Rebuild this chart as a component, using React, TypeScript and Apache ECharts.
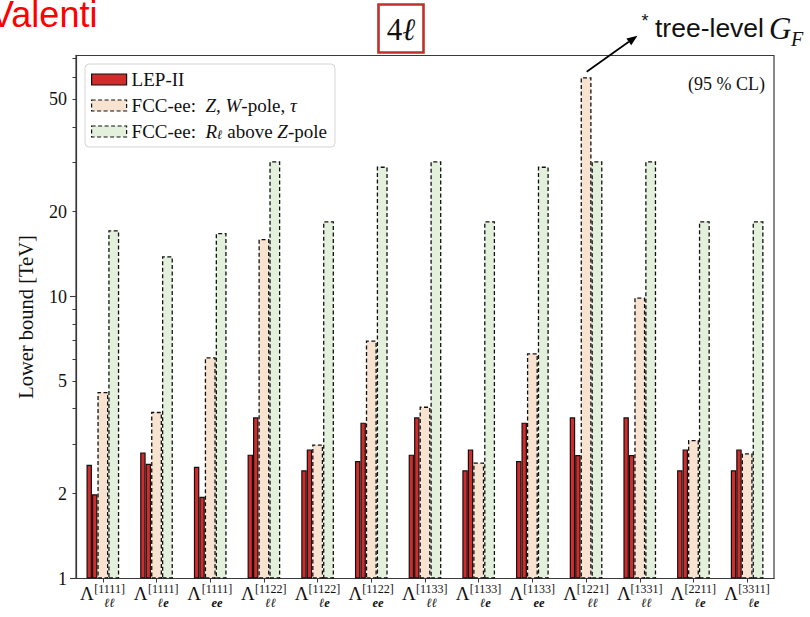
import React, { useEffect, useRef } from "react";
import * as echarts from "echarts";

// ---- data ----
const subLabels = ["ℓℓ", "ℓe", "ee", "ℓℓ", "ℓe", "ee", "ℓℓ", "ℓe", "ee", "ℓℓ", "ℓℓ", "ℓe", "ℓe"];
const supLabels = ["[1111]", "[1111]", "[1111]", "[1122]", "[1122]", "[1122]", "[1133]", "[1133]", "[1133]", "[1221]", "[1331]", "[2211]", "[3311]"];
const categories = subLabels.map((s, i) => s + " " + supLabels[i]);

const lepFirst = [2.53, 2.8, 2.49, 2.75, 2.42, 2.61, 2.75, 2.42, 2.61, 3.73, 3.73, 2.42, 2.42];
const lepSecond = [1.99, 2.55, 1.95, 3.73, 2.87, 3.57, 3.73, 2.87, 3.57, 2.74, 2.74, 2.87, 2.87];
const fccPole = [4.59, 3.9, 6.09, 16.0, 2.99, 6.98, 4.07, 2.58, 6.29, 60.0, 9.92, 3.1, 2.78];
const fccAbove = [17.2, 13.9, 16.8, 30.2, 18.5, 28.9, 30.2, 18.5, 28.9, 30.2, 30.2, 18.5, 18.5];

const yLabelValues = [1, 2, 5, 10, 20, 50];
const yMajorTicks = [1, 10];
const yMinorTicks = [2, 3, 4, 5, 6, 7, 8, 9, 20, 30, 40, 50, 60, 70];
const yMin = 1;
const yMax = 71.6;

const NAME_LEP = "LEP-II";
const NAME_POLE = "FCC-ee: Z, W-pole, τ";
const NAME_ABOVE = "FCC-ee: Rℓ above Z-pole";

const SERIF = '"Liberation Serif", "DejaVu Serif", serif';
const SANS = '"Liberation Sans", Arial, sans-serif';

const RED = "#d22b2b";
const PEACH = "#f8e2d0";
const GREEN = "#e3f0dc";
const EDGE = "#111111";
const FRAME = "#3a3a3a";

const legendText: Record<string, string> = {
  [NAME_LEP]: "LEP-II",
  [NAME_POLE]: "FCC-ee:  {i|Z}, {i|W}-pole, {i|τ}",
  [NAME_ABOVE]: "FCC-ee:  {i|R}{s|ℓ} above {i|Z}-pole",
};

const LAMBDA_W = 13.5;
const SCRIPT_W = 32;

function buildOption(): any {
  const dashed = [4, 2.5];
  return {
    animation: false,
    backgroundColor: "#ffffff",
    grid: {
      left: 76,
      right: 36,
      top: 55.5,
      bottom: 38.5,
      show: true,
      borderColor: FRAME,
      borderWidth: 1.2,
      backgroundColor: "transparent",
    },
    legend: {
      orient: "vertical",
      left: 85,
      top: 64,
      icon: "rect",
      itemWidth: 35,
      itemHeight: 11,
      itemGap: 7,
      itemTextGap: 14,
      backgroundColor: "#ffffff",
      borderColor: "#d4d4d4",
      borderWidth: 1,
      borderRadius: 4,
      padding: [6, 8, 6, 6],
      selectedMode: false,
      data: [
        { name: NAME_LEP, itemStyle: { color: RED, borderColor: EDGE, borderWidth: 1.2 } },
        { name: NAME_POLE, itemStyle: { color: PEACH, borderColor: EDGE, borderWidth: 1.2, borderType: dashed } },
        { name: NAME_ABOVE, itemStyle: { color: GREEN, borderColor: EDGE, borderWidth: 1.2, borderType: dashed } },
      ],
      formatter: (name: string) => legendText[name] || name,
      textStyle: {
        fontFamily: SERIF,
        fontSize: 19,
        lineHeight: 17,
        color: "#111",
        rich: {
          i: { fontStyle: "italic", fontFamily: SERIF, fontSize: 19, lineHeight: 17, color: "#111" },
          s: { fontStyle: "italic", fontFamily: SERIF, fontSize: 13, lineHeight: 17, color: "#111", padding: [6, 0, 0, 0] },
        },
      },
    },
    xAxis: [
      {
        type: "category",
        data: categories,
        position: "bottom",
        axisLine: { show: true, lineStyle: { color: FRAME, width: 1.2 } },
        axisTick: { show: true, alignWithLabel: true, length: 4, lineStyle: { color: FRAME, width: 1 } },
        splitLine: { show: false },
        axisLabel: {
          interval: 0,
          margin: 4.5,
          color: "#111",
          fontFamily: SERIF,
          formatter: (_v: string, idx: number) => `{L|Λ}{p|${supLabels[idx]}}`,
          rich: {
            L: { fontSize: 19, fontFamily: SERIF, color: "#111", lineHeight: 20, width: LAMBDA_W },
            p: { fontSize: 12, fontFamily: SERIF, color: "#111", lineHeight: 10, verticalAlign: "top", width: SCRIPT_W, align: "left" },
          },
        },
      },
      {
        type: "category",
        data: categories,
        position: "bottom",
        offset: 0,
        axisLine: { show: false },
        axisTick: { show: false },
        splitLine: { show: false },
        axisLabel: {
          interval: 0,
          margin: 18,
          color: "#111",
          fontFamily: SERIF,
          formatter: (_v: string, idx: number) => `{sp| }{b|${subLabels[idx]}}`,
          rich: {
            sp: { fontSize: 12, width: LAMBDA_W, lineHeight: 12 },
            b: { fontSize: 12.5, fontFamily: SERIF, fontStyle: "italic", fontWeight: "bold", color: "#111", lineHeight: 12, width: SCRIPT_W, align: "left" },
          },
        },
      },
    ],
    yAxis: [
      {
        type: "log",
        logBase: 10,
        min: yMin,
        max: yMax,
        name: "Lower bound [TeV]",
        nameLocation: "middle",
        nameGap: 40,
        nameTextStyle: { fontFamily: SERIF, fontSize: 20.5, color: "#111" },
        axisLine: { show: true, lineStyle: { color: FRAME, width: 1.2 } },
        axisTick: { show: true, length: 3.5, customValues: yMinorTicks, lineStyle: { color: FRAME, width: 1 } },
        axisLabel: { show: true, customValues: yLabelValues, margin: 9, fontFamily: SERIF, fontSize: 18, color: "#111" },
        splitLine: { show: false },
        minorTick: { show: false },
      },
      {
        type: "log",
        logBase: 10,
        min: yMin,
        max: yMax,
        position: "left",
        axisLine: { show: false },
        axisTick: { show: true, length: 6, customValues: yMajorTicks, lineStyle: { color: FRAME, width: 1.1 } },
        axisLabel: { show: false },
        splitLine: { show: false },
      },
    ],
    series: [
      {
        type: "bar",
        name: NAME_LEP,
        data: lepFirst,
        barWidth: 5.45,
        barGap: "0%",
        itemStyle: { color: RED, borderColor: EDGE, borderWidth: 1.2 },
      },
      {
        type: "bar",
        name: NAME_LEP,
        data: lepSecond,
        barWidth: 5.45,
        barGap: "0%",
        itemStyle: { color: RED, borderColor: EDGE, borderWidth: 1.2 },
      },
      {
        type: "bar",
        name: NAME_POLE,
        data: fccPole,
        barWidth: 10.9,
        barGap: "0%",
        itemStyle: { color: PEACH, borderColor: EDGE, borderWidth: 1.3, borderType: dashed },
      },
      {
        type: "bar",
        name: NAME_ABOVE,
        data: fccAbove,
        barWidth: 10.9,
        barGap: "0%",
        itemStyle: { color: GREEN, borderColor: EDGE, borderWidth: 1.3, borderType: dashed },
      },
    ],
    graphic: [
      {
        type: "text",
        x: -10,
        y: -4,
        style: { text: "Valenti", fill: "#ff0000", fontSize: 36, fontFamily: SANS, textAlign: "left", textVerticalAlign: "top", align: "left", verticalAlign: "top" },
      },
      {
        type: "rect",
        shape: { x: 378.5, y: 4.5, width: 45, height: 48 },
        style: { fill: "#ffffff", stroke: "#c0302a", lineWidth: 2.6 },
      },
      {
        type: "text",
        x: 401,
        y: 29,
        style: {
          text: "{n|4}{l|ℓ}",
          align: "center",
          verticalAlign: "middle",
          textAlign: "center",
          textVerticalAlign: "middle",
          rich: {
            n: { fontFamily: SERIF, fontSize: 31, fill: "#111", color: "#111" },
            l: { fontFamily: SERIF, fontSize: 31, fontStyle: "italic", fill: "#111", color: "#111" },
          },
        },
      },
      {
        type: "line",
        shape: { x1: 586.7, y1: 71.7, x2: 628.8, y2: 41.8 },
        style: { stroke: "#000", lineWidth: 1.7 },
      },
      {
        type: "polygon",
        shape: { points: [[637.5, 35.7], [631.2, 45.2], [626.4, 38.4]] },
        style: { fill: "#000" },
      },
      {
        type: "text",
        x: 645,
        y: 21,
        style: { text: "*", fill: "#111", fontSize: 18, fontFamily: SANS, align: "center", verticalAlign: "middle", textAlign: "center", textVerticalAlign: "middle" },
      },
      {
        type: "text",
        x: 655,
        y: 28,
        style: { text: "tree-level", fill: "#111", fontSize: 26.5, fontFamily: SANS, align: "left", verticalAlign: "middle", textAlign: "left", textVerticalAlign: "middle" },
      },
      {
        type: "text",
        x: 769,
        y: 28,
        style: { text: "G", fill: "#111", fontSize: 31, fontFamily: SERIF, fontStyle: "italic", align: "left", verticalAlign: "middle", textAlign: "left", textVerticalAlign: "middle" },
      },
      {
        type: "text",
        x: 791,
        y: 39,
        style: { text: "F", fill: "#111", fontSize: 20, fontFamily: SERIF, fontStyle: "italic", align: "left", verticalAlign: "middle", textAlign: "left", textVerticalAlign: "middle" },
      },
      {
        type: "text",
        x: 765,
        y: 84,
        style: { text: "(95 % CL)", fill: "#111", fontSize: 18, fontFamily: SERIF, align: "right", verticalAlign: "middle", textAlign: "right", textVerticalAlign: "middle" },
      },
    ],
  };
}

export default function App() {
  const ref = useRef<HTMLDivElement>(null);
  useEffect(() => {
    if (!ref.current) return;
    const chart = echarts.init(ref.current, null, { renderer: "svg" });
    chart.setOption(buildOption());
    return () => {
      chart.dispose();
    };
  }, []);
  return (
    <div
      ref={ref}
      style={{ position: "fixed", left: 0, top: 0, width: 810, height: 617, background: "#ffffff" }}
    />
  );
}
